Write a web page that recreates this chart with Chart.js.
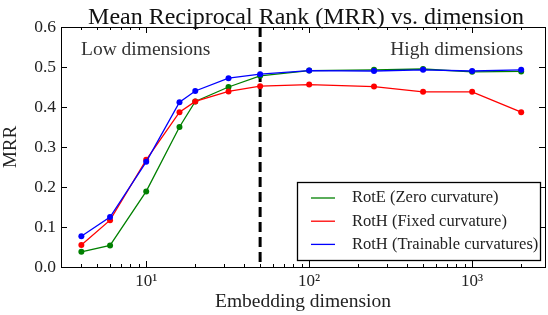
<!DOCTYPE html>
<html>
<head>
<meta charset="utf-8">
<script src="https://cdn.jsdelivr.net/npm/chart.js@4"></script>
<style>
  html, body { margin: 0; padding: 0; background: #fff; }
  #wrap { width: 548px; height: 315px; }
</style>
</head>
<body>
<div id="wrap"><canvas id="myChart" width="548" height="315"></canvas></div>
<script>
const dims = [4, 6, 10, 16, 20, 32, 50, 100, 250, 500, 1000, 2000];
const rotE = [0.038, 0.054, 0.189, 0.350, 0.414, 0.450, 0.478, 0.491, 0.493, 0.495, 0.488, 0.489];
const rotHFixed = [0.055, 0.117, 0.268, 0.387, 0.414, 0.439, 0.452, 0.456, 0.451, 0.438, 0.438, 0.387];
const rotHTrain = [0.077, 0.125, 0.263, 0.412, 0.440, 0.472, 0.482, 0.491, 0.490, 0.493, 0.490, 0.493];
const yTicks = [0.0, 0.1, 0.2, 0.3, 0.4, 0.5, 0.6];
const xMajor = [10, 100, 1000];
const xLabels = { 10: '10\u00b9', 100: '10\u00b2', 1000: '10\u00b3' };
const splitDim = 50;

const serif = "'Liberation Serif', 'DejaVu Serif', serif";

function pts(ys) {
  return dims.map((d, i) => ({ x: d, y: ys[i] }));
}

function series(label, ys, color, order) {
  return {
    label: label,
    data: pts(ys),
    borderColor: color,
    backgroundColor: color,
    borderWidth: 1.3,
    pointRadius: 3,
    pointBorderWidth: 0,
    pointHoverRadius: 3,
    tension: 0,
    order: order
  };
}

const legendItems = [
  { text: 'RotE (Zero curvature)', color: '#008000' },
  { text: 'RotH (Fixed curvature)', color: '#ff0000' },
  { text: 'RotH (Trainable curvatures)', color: '#0000ff' }
];

const decor = {
  id: 'decor',
  beforeDatasetsDraw(chart) {
    const ctx = chart.ctx;
    const a = chart.chartArea;
    const x = chart.scales.x;
    // dashed split line
    const px = x.getPixelForValue(splitDim);
    ctx.save();
    ctx.strokeStyle = '#000';
    ctx.lineWidth = 3;
    ctx.setLineDash([10, 5]);
    ctx.beginPath();
    ctx.moveTo(px, a.top);
    ctx.lineTo(px, a.bottom);
    ctx.stroke();
    ctx.restore();
  },
  afterDraw(chart) {
    const ctx = chart.ctx;
    const a = chart.chartArea;
    const x = chart.scales.x;
    const y = chart.scales.y;
    ctx.save();
    ctx.strokeStyle = '#000';
    ctx.lineWidth = 1;
    // inward ticks
    ctx.beginPath();
    for (let e = 0; e <= 3; e++) {
      for (let m = 1; m <= 9; m++) {
        const v = m * Math.pow(10, e);
        if (v < x.min || v > x.max) continue;
        const len = m === 1 ? 6 : 3;
        const p = Math.round(x.getPixelForValue(v)) + 0.5;
        ctx.moveTo(p, a.bottom); ctx.lineTo(p, a.bottom - len);
        ctx.moveTo(p, a.top); ctx.lineTo(p, a.top + len);
      }
    }
    yTicks.forEach(v => {
      const p = Math.round(y.getPixelForValue(v)) + 0.5;
      ctx.moveTo(a.left, p); ctx.lineTo(a.left + 6, p);
      ctx.moveTo(a.right, p); ctx.lineTo(a.right - 6, p);
    });
    ctx.stroke();
    // frame
    ctx.strokeRect(Math.round(a.left) + 0.5, Math.round(a.top) + 0.5,
      Math.round(a.right - a.left), Math.round(a.bottom - a.top));

    // title
    ctx.fillStyle = '#111';
    ctx.textAlign = 'center';
    ctx.textBaseline = 'alphabetic';
    ctx.font = '24px ' + serif;
    ctx.fillText('Mean Reciprocal Rank (MRR) vs. dimension', 306, 24);

    // region labels
    ctx.textBaseline = 'middle';
    ctx.fillStyle = '#333';
    ctx.font = '19.5px ' + serif;
    ctx.textAlign = 'left';
    ctx.fillText('Low dimensions', 81, 50);
    ctx.textAlign = 'right';
    ctx.fillText('High dimensions', 523, 50);

    // legend
    const bx = 297, by = 182, bw = 243, bh = 78;
    ctx.fillStyle = '#fff';
    ctx.fillRect(bx, by, bw, bh);
    ctx.strokeStyle = '#000';
    ctx.lineWidth = 1.3;
    ctx.strokeRect(bx + 0.5, by + 0.5, bw, bh);
    ctx.font = '16.5px ' + serif;
    ctx.textAlign = 'left';
    legendItems.forEach((it, i) => {
      const ry = 198 + i * 23.2;
      ctx.strokeStyle = it.color;
      ctx.lineWidth = 1.3;
      ctx.beginPath();
      ctx.moveTo(311, ry); ctx.lineTo(335, ry);
      ctx.stroke();
      ctx.fillStyle = '#222';
      ctx.fillText(it.text, 352, ry);
    });
    ctx.restore();
  }
};

new Chart(document.getElementById('myChart'), {
  type: 'line',
  data: {
    datasets: [
      series('RotE (Zero curvature)', rotE, '#008000', 2),
      series('RotH (Fixed curvature)', rotHFixed, '#ff0000', 1),
      series('RotH (Trainable curvatures)', rotHTrain, '#0000ff', 0)
    ]
  },
  options: {
    responsive: false,
    animation: false,
    events: [],
    layout: { padding: { top: 27, right: 3, left: 0, bottom: 0 } },
    plugins: {
      legend: { display: false },
      tooltip: { enabled: false }
    },
    scales: {
      x: {
        type: 'logarithmic',
        min: 3,
        max: 2800,
        grid: { display: false, drawTicks: false },
        border: { display: false },
        afterBuildTicks: (s) => { s.ticks = xMajor.map(v => ({ value: v })); },
        afterFit: (s) => { s.height = 48; },
        ticks: {
          autoSkip: false,
          maxRotation: 0,
          padding: 4,
          color: '#222',
          font: { family: serif, size: 17 },
          callback: (v) => xLabels[v] || ''
        },
        title: {
          display: true,
          text: 'Embedding dimension',
          color: '#222',
          font: { family: serif, size: 19.5 },
          padding: { top: 0, bottom: 1 }
        }
      },
      y: {
        min: 0,
        max: 0.6,
        grid: { display: false, drawTicks: false },
        border: { display: false },
        afterBuildTicks: (s) => { s.ticks = yTicks.map(v => ({ value: v })); },
        afterFit: (s) => { s.width = 61; },
        ticks: {
          padding: 5,
          color: '#222',
          font: { family: serif, size: 17.5 },
          callback: (v) => v.toFixed(1)
        },
        title: {
          display: true,
          text: 'MRR',
          color: '#222',
          font: { family: serif, size: 19 },
          padding: { top: 0, bottom: 0 }
        }
      }
    }
  },
  plugins: [decor]
});
</script>
</body>
</html>
